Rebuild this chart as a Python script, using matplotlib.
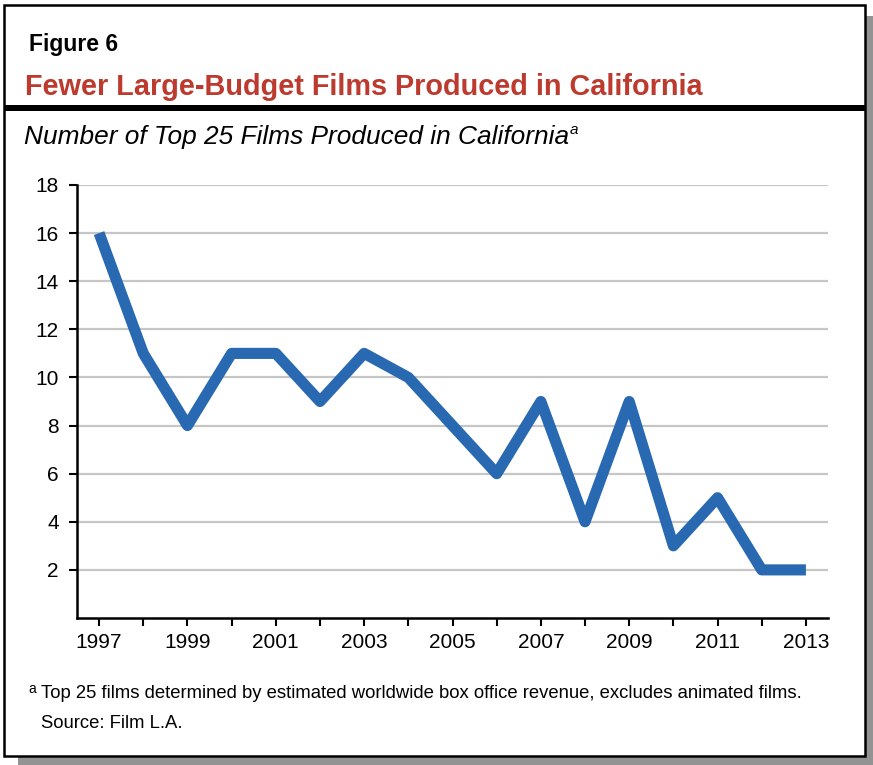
import matplotlib
matplotlib.use("Agg")
import matplotlib.pyplot as plt
from matplotlib.patches import Rectangle

plt.rcParams['font.family'] = ['Liberation Sans', 'DejaVu Sans']

# Data
years = [1997, 1998, 1999, 2000, 2001, 2002, 2003, 2004, 2005,
         2006, 2007, 2008, 2009, 2010, 2011, 2012, 2013]
films = [16, 11, 8, 11, 11, 9, 11, 10, 8, 6, 9, 4, 9, 3, 5, 2, 2]
label_years = [1997, 1999, 2001, 2003, 2005, 2007, 2009, 2011, 2013]
y_ticks = [2, 4, 6, 8, 10, 12, 14, 16, 18]

W, H = 873, 765
fig = plt.figure(figsize=(W / 100, H / 100), dpi=100)


def fx(px):
    return px / W


def fy(py):
    return 1 - py / H


# frame with drop shadow
fig.patches.append(Rectangle((fx(18), fy(765)), fx(873 - 18), fy(16) - fy(765),
                             transform=fig.transFigure, facecolor='#939393',
                             edgecolor='none', zorder=0))
fig.patches.append(Rectangle((fx(4), fy(756)), fx(861), fy(5) - fy(756),
                             transform=fig.transFigure, facecolor='white',
                             edgecolor='black', linewidth=1.8, zorder=1))
# thick rule under the title
fig.patches.append(Rectangle((fx(4), fy(111)), fx(861), fy(105) - fy(111),
                             transform=fig.transFigure, facecolor='black',
                             edgecolor='none', zorder=2))

fig.text(fx(29), fy(44), "Figure 6", fontsize=16.5, fontweight='bold',
         va='center', ha='left')
fig.text(fx(25), fy(87), "Fewer Large-Budget Films Produced in California",
         fontsize=20.8, fontweight='bold', color='#BD3A2E', va='center', ha='left')
sub = fig.text(fx(24), fy(137), "Number of Top 25 Films Produced in California",
               fontsize=18.9, style='italic', va='center', ha='left')

fig.canvas.draw()
bb = sub.get_window_extent()
fig.text(bb.x1 / W + fx(1), fy(130), "a", fontsize=11, style='italic',
         va='center', ha='left')

ax = fig.add_axes([fx(77), fy(618), fx(828) - fx(77), fy(185) - fy(618)])
ax.set_zorder(3)
ax.patch.set_visible(False)

for v in y_ticks:
    ax.axhline(v, color='#c6c6c6', linewidth=1.6, zorder=1)

ax.plot(years, films, color='#2869B2', linewidth=8,
        solid_joinstyle='round', solid_capstyle='butt', zorder=3)

ax.set_xlim(1996.5, 2013.5)
ax.set_ylim(0, 18)
ax.set_xticks(years)
ax.set_xticklabels([str(y) if y in label_years else '' for y in years])
ax.set_yticks(y_ticks)
ax.set_yticklabels([str(v) for v in y_ticks])
ax.tick_params(axis='both', direction='out', length=6, width=1.5,
               labelsize=15, colors='black')
ax.tick_params(axis='x', pad=5)
ax.tick_params(axis='y', pad=7)
for side in ['top', 'right']:
    ax.spines[side].set_visible(False)
for side in ['left', 'bottom']:
    ax.spines[side].set_linewidth(1.8)

fig.text(fx(28), fy(689), "a", fontsize=10, va='center', ha='left')
fig.text(fx(41), fy(694),
         "Top 25 films determined by estimated worldwide box office revenue, excludes animated films.",
         fontsize=13.3, va='center', ha='left')
fig.text(fx(41), fy(723), "Source: Film L.A.", fontsize=13.3, va='center', ha='left')

fig.savefig("out.png", dpi=100)
